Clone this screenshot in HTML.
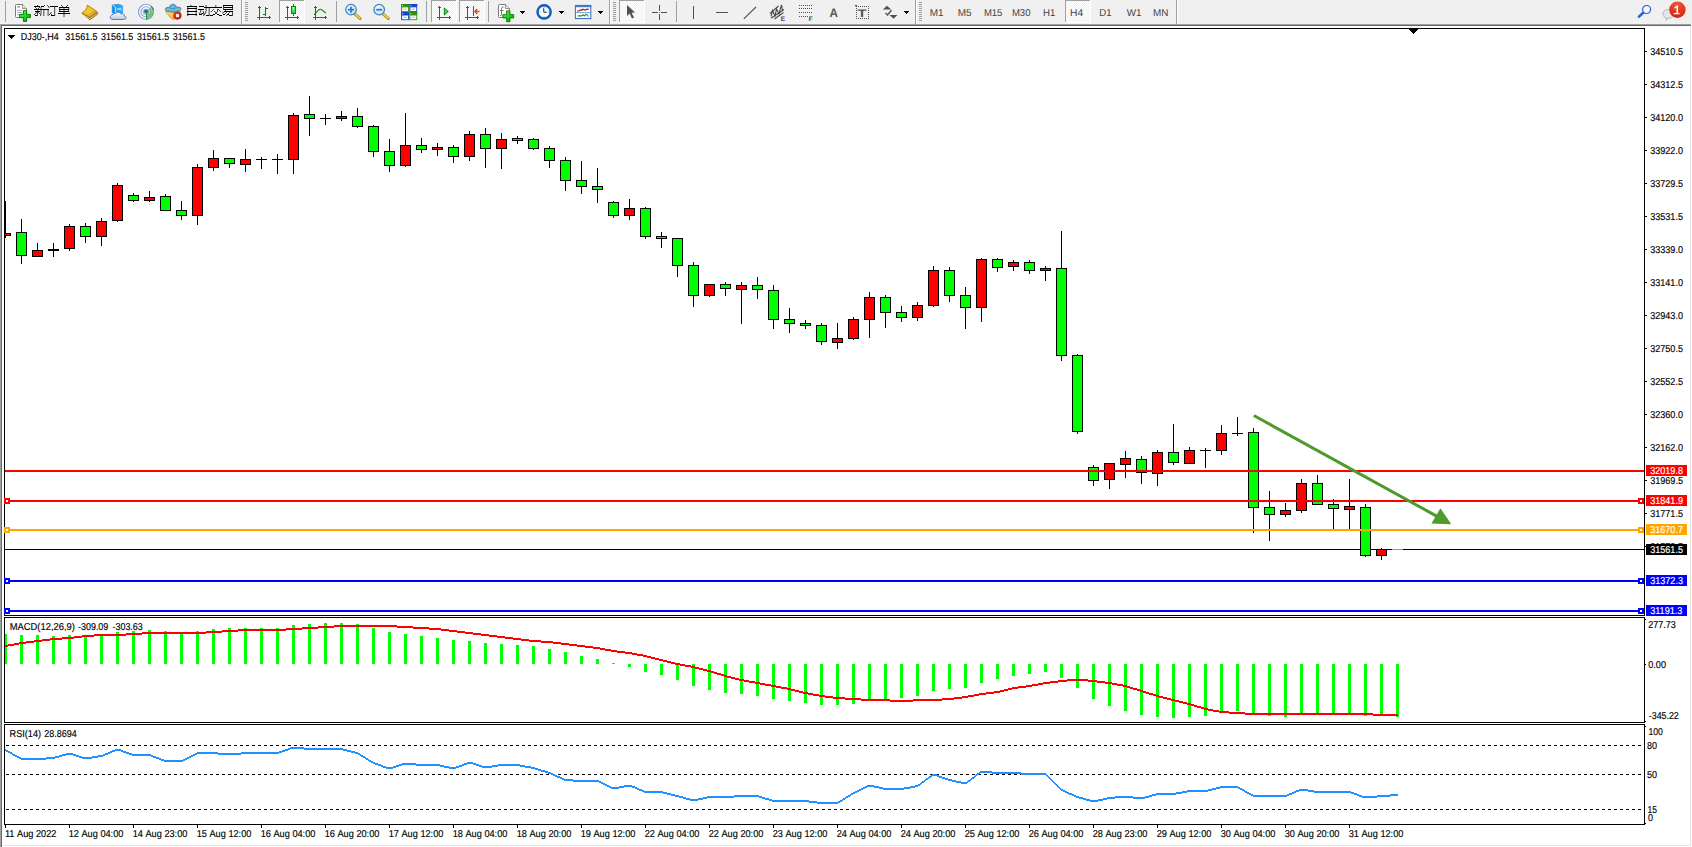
<!DOCTYPE html>
<html><head><meta charset="utf-8"><title>chart</title>
<style>
html,body{margin:0;padding:0;background:#fff;}
body{width:1692px;height:847px;overflow:hidden;position:relative;font-family:"Liberation Sans",sans-serif;}
svg{position:absolute;left:0;top:0;display:block;}
svg text{font-family:"Liberation Sans",sans-serif;text-rendering:geometricPrecision;}
</style></head><body>
<svg width="1692" height="847" viewBox="0 0 1692 847">
<rect x="0" y="0" width="1692" height="24" fill="#f0f0f0"/><rect x="0" y="24" width="1691" height="1" fill="#a0a0a0"/><rect x="0" y="25" width="1691" height="1" fill="#696969"/><rect x="0" y="24" width="1" height="823" fill="#a0a0a0"/><rect x="1" y="25" width="1" height="822" fill="#696969"/><rect x="1690" y="26" width="1" height="820" fill="#e3e3e3"/><rect x="2" y="845" width="1689" height="1" fill="#e3e3e3"/><g shape-rendering="crispEdges"><rect x="4" y="28" width="1641" height="1" fill="#000"/><rect x="4" y="615" width="1641" height="1" fill="#000"/><rect x="4" y="28" width="1" height="588" fill="#000"/><rect x="1644" y="28" width="1" height="588" fill="#000"/><rect x="4" y="617" width="1641" height="1" fill="#000"/><rect x="4" y="722" width="1641" height="1" fill="#000"/><rect x="4" y="617" width="1" height="106" fill="#000"/><rect x="1644" y="617" width="1" height="106" fill="#000"/><rect x="4" y="724" width="1641" height="1" fill="#000"/><rect x="4" y="824" width="1641" height="1" fill="#000"/><rect x="4" y="724" width="1" height="101" fill="#000"/><rect x="1644" y="724" width="1" height="101" fill="#000"/><rect x="5" y="549" width="1639" height="1" fill="#000"/><rect x="5" y="201" width="1" height="37" fill="#000"/><rect x="5" y="233" width="6" height="3" fill="#000"/><rect x="5" y="234" width="5" height="1" fill="#ff0000"/><rect x="21" y="219" width="1" height="45" fill="#000"/><rect x="16" y="232" width="11" height="24" fill="#000"/><rect x="17" y="233" width="9" height="22" fill="#00ff00"/><rect x="37" y="243" width="1" height="14" fill="#000"/><rect x="32" y="250" width="11" height="7" fill="#000"/><rect x="33" y="251" width="9" height="5" fill="#ff0000"/><rect x="53" y="243" width="1" height="14" fill="#000"/><rect x="48" y="249" width="11" height="2" fill="#000"/><rect x="69" y="224" width="1" height="27" fill="#000"/><rect x="64" y="226" width="11" height="23" fill="#000"/><rect x="65" y="227" width="9" height="21" fill="#ff0000"/><rect x="85" y="223" width="1" height="20" fill="#000"/><rect x="80" y="226" width="11" height="11" fill="#000"/><rect x="81" y="227" width="9" height="9" fill="#00ff00"/><rect x="101" y="218" width="1" height="28" fill="#000"/><rect x="96" y="221" width="11" height="16" fill="#000"/><rect x="97" y="222" width="9" height="14" fill="#ff0000"/><rect x="117" y="183" width="1" height="39" fill="#000"/><rect x="112" y="185" width="11" height="36" fill="#000"/><rect x="113" y="186" width="9" height="34" fill="#ff0000"/><rect x="133" y="193" width="1" height="9" fill="#000"/><rect x="128" y="195" width="11" height="6" fill="#000"/><rect x="129" y="196" width="9" height="4" fill="#00ff00"/><rect x="149" y="191" width="1" height="11" fill="#000"/><rect x="144" y="197" width="11" height="4" fill="#000"/><rect x="145" y="198" width="9" height="2" fill="#ff0000"/><rect x="165" y="194" width="1" height="17" fill="#000"/><rect x="160" y="196" width="11" height="15" fill="#000"/><rect x="161" y="197" width="9" height="13" fill="#00ff00"/><rect x="181" y="201" width="1" height="19" fill="#000"/><rect x="176" y="210" width="11" height="6" fill="#000"/><rect x="177" y="211" width="9" height="4" fill="#00ff00"/><rect x="197" y="164" width="1" height="61" fill="#000"/><rect x="192" y="167" width="11" height="49" fill="#000"/><rect x="193" y="168" width="9" height="47" fill="#ff0000"/><rect x="213" y="150" width="1" height="21" fill="#000"/><rect x="208" y="158" width="11" height="10" fill="#000"/><rect x="209" y="159" width="9" height="8" fill="#ff0000"/><rect x="229" y="158" width="1" height="10" fill="#000"/><rect x="224" y="158" width="11" height="6" fill="#000"/><rect x="225" y="159" width="9" height="4" fill="#00ff00"/><rect x="245" y="149" width="1" height="23" fill="#000"/><rect x="240" y="159" width="11" height="6" fill="#000"/><rect x="241" y="160" width="9" height="4" fill="#ff0000"/><rect x="261" y="157" width="1" height="12" fill="#000"/><rect x="256" y="159" width="11" height="1" fill="#000"/><rect x="277" y="154" width="1" height="20" fill="#000"/><rect x="272" y="159" width="11" height="1" fill="#000"/><rect x="293" y="113" width="1" height="61" fill="#000"/><rect x="288" y="115" width="11" height="45" fill="#000"/><rect x="289" y="116" width="9" height="43" fill="#ff0000"/><rect x="309" y="96" width="1" height="40" fill="#000"/><rect x="304" y="114" width="11" height="5" fill="#000"/><rect x="305" y="115" width="9" height="3" fill="#00ff00"/><rect x="325" y="114" width="1" height="11" fill="#000"/><rect x="320" y="118" width="11" height="1" fill="#000"/><rect x="341" y="111" width="1" height="10" fill="#000"/><rect x="336" y="116" width="11" height="3" fill="#000"/><rect x="337" y="117" width="9" height="1" fill="#ff0000"/><rect x="357" y="108" width="1" height="20" fill="#000"/><rect x="352" y="116" width="11" height="11" fill="#000"/><rect x="353" y="117" width="9" height="9" fill="#00ff00"/><rect x="373" y="125" width="1" height="32" fill="#000"/><rect x="368" y="126" width="11" height="26" fill="#000"/><rect x="369" y="127" width="9" height="24" fill="#00ff00"/><rect x="389" y="139" width="1" height="33" fill="#000"/><rect x="384" y="151" width="11" height="15" fill="#000"/><rect x="385" y="152" width="9" height="13" fill="#00ff00"/><rect x="405" y="113" width="1" height="54" fill="#000"/><rect x="400" y="145" width="11" height="21" fill="#000"/><rect x="401" y="146" width="9" height="19" fill="#ff0000"/><rect x="421" y="138" width="1" height="15" fill="#000"/><rect x="416" y="145" width="11" height="5" fill="#000"/><rect x="417" y="146" width="9" height="3" fill="#00ff00"/><rect x="437" y="143" width="1" height="13" fill="#000"/><rect x="432" y="147" width="11" height="3" fill="#000"/><rect x="433" y="148" width="9" height="1" fill="#ff0000"/><rect x="453" y="145" width="1" height="18" fill="#000"/><rect x="448" y="147" width="11" height="10" fill="#000"/><rect x="449" y="148" width="9" height="8" fill="#00ff00"/><rect x="469" y="131" width="1" height="30" fill="#000"/><rect x="464" y="134" width="11" height="23" fill="#000"/><rect x="465" y="135" width="9" height="21" fill="#ff0000"/><rect x="485" y="128" width="1" height="40" fill="#000"/><rect x="480" y="134" width="11" height="15" fill="#000"/><rect x="481" y="135" width="9" height="13" fill="#00ff00"/><rect x="501" y="133" width="1" height="36" fill="#000"/><rect x="496" y="139" width="11" height="10" fill="#000"/><rect x="497" y="140" width="9" height="8" fill="#ff0000"/><rect x="517" y="136" width="1" height="8" fill="#000"/><rect x="512" y="138" width="11" height="3" fill="#000"/><rect x="513" y="139" width="9" height="1" fill="#00ff00"/><rect x="533" y="138" width="1" height="12" fill="#000"/><rect x="528" y="139" width="11" height="10" fill="#000"/><rect x="529" y="140" width="9" height="8" fill="#00ff00"/><rect x="549" y="146" width="1" height="22" fill="#000"/><rect x="544" y="148" width="11" height="13" fill="#000"/><rect x="545" y="149" width="9" height="11" fill="#00ff00"/><rect x="565" y="157" width="1" height="34" fill="#000"/><rect x="560" y="160" width="11" height="21" fill="#000"/><rect x="561" y="161" width="9" height="19" fill="#00ff00"/><rect x="581" y="161" width="1" height="33" fill="#000"/><rect x="576" y="180" width="11" height="7" fill="#000"/><rect x="577" y="181" width="9" height="5" fill="#00ff00"/><rect x="597" y="168" width="1" height="35" fill="#000"/><rect x="592" y="186" width="11" height="4" fill="#000"/><rect x="593" y="187" width="9" height="2" fill="#00ff00"/><rect x="613" y="201" width="1" height="17" fill="#000"/><rect x="608" y="202" width="11" height="14" fill="#000"/><rect x="609" y="203" width="9" height="12" fill="#00ff00"/><rect x="629" y="199" width="1" height="21" fill="#000"/><rect x="624" y="208" width="11" height="8" fill="#000"/><rect x="625" y="209" width="9" height="6" fill="#ff0000"/><rect x="645" y="207" width="1" height="32" fill="#000"/><rect x="640" y="208" width="11" height="29" fill="#000"/><rect x="641" y="209" width="9" height="27" fill="#00ff00"/><rect x="661" y="232" width="1" height="16" fill="#000"/><rect x="656" y="236" width="11" height="3" fill="#000"/><rect x="657" y="237" width="9" height="1" fill="#00ff00"/><rect x="677" y="238" width="1" height="39" fill="#000"/><rect x="672" y="238" width="11" height="28" fill="#000"/><rect x="673" y="239" width="9" height="26" fill="#00ff00"/><rect x="693" y="262" width="1" height="45" fill="#000"/><rect x="688" y="265" width="11" height="31" fill="#000"/><rect x="689" y="266" width="9" height="29" fill="#00ff00"/><rect x="709" y="284" width="1" height="13" fill="#000"/><rect x="704" y="284" width="11" height="12" fill="#000"/><rect x="705" y="285" width="9" height="10" fill="#ff0000"/><rect x="725" y="282" width="1" height="14" fill="#000"/><rect x="720" y="284" width="11" height="5" fill="#000"/><rect x="721" y="285" width="9" height="3" fill="#00ff00"/><rect x="741" y="282" width="1" height="42" fill="#000"/><rect x="736" y="285" width="11" height="5" fill="#000"/><rect x="737" y="286" width="9" height="3" fill="#ff0000"/><rect x="757" y="277" width="1" height="22" fill="#000"/><rect x="752" y="285" width="11" height="5" fill="#000"/><rect x="753" y="286" width="9" height="3" fill="#00ff00"/><rect x="773" y="285" width="1" height="44" fill="#000"/><rect x="768" y="290" width="11" height="30" fill="#000"/><rect x="769" y="291" width="9" height="28" fill="#00ff00"/><rect x="789" y="308" width="1" height="25" fill="#000"/><rect x="784" y="319" width="11" height="5" fill="#000"/><rect x="785" y="320" width="9" height="3" fill="#00ff00"/><rect x="805" y="320" width="1" height="9" fill="#000"/><rect x="800" y="323" width="11" height="3" fill="#000"/><rect x="801" y="324" width="9" height="1" fill="#00ff00"/><rect x="821" y="323" width="1" height="22" fill="#000"/><rect x="816" y="325" width="11" height="17" fill="#000"/><rect x="817" y="326" width="9" height="15" fill="#00ff00"/><rect x="837" y="323" width="1" height="26" fill="#000"/><rect x="832" y="338" width="11" height="5" fill="#000"/><rect x="833" y="339" width="9" height="3" fill="#ff0000"/><rect x="853" y="317" width="1" height="23" fill="#000"/><rect x="848" y="319" width="11" height="20" fill="#000"/><rect x="849" y="320" width="9" height="18" fill="#ff0000"/><rect x="869" y="292" width="1" height="46" fill="#000"/><rect x="864" y="297" width="11" height="23" fill="#000"/><rect x="865" y="298" width="9" height="21" fill="#ff0000"/><rect x="885" y="295" width="1" height="33" fill="#000"/><rect x="880" y="297" width="11" height="16" fill="#000"/><rect x="881" y="298" width="9" height="14" fill="#00ff00"/><rect x="901" y="306" width="1" height="16" fill="#000"/><rect x="896" y="312" width="11" height="6" fill="#000"/><rect x="897" y="313" width="9" height="4" fill="#00ff00"/><rect x="917" y="302" width="1" height="19" fill="#000"/><rect x="912" y="305" width="11" height="13" fill="#000"/><rect x="913" y="306" width="9" height="11" fill="#ff0000"/><rect x="933" y="266" width="1" height="41" fill="#000"/><rect x="928" y="270" width="11" height="36" fill="#000"/><rect x="929" y="271" width="9" height="34" fill="#ff0000"/><rect x="949" y="267" width="1" height="35" fill="#000"/><rect x="944" y="270" width="11" height="26" fill="#000"/><rect x="945" y="271" width="9" height="24" fill="#00ff00"/><rect x="965" y="287" width="1" height="42" fill="#000"/><rect x="960" y="295" width="11" height="13" fill="#000"/><rect x="961" y="296" width="9" height="11" fill="#00ff00"/><rect x="981" y="258" width="1" height="64" fill="#000"/><rect x="976" y="259" width="11" height="49" fill="#000"/><rect x="977" y="260" width="9" height="47" fill="#ff0000"/><rect x="997" y="258" width="1" height="14" fill="#000"/><rect x="992" y="259" width="11" height="9" fill="#000"/><rect x="993" y="260" width="9" height="7" fill="#00ff00"/><rect x="1013" y="260" width="1" height="11" fill="#000"/><rect x="1008" y="262" width="11" height="5" fill="#000"/><rect x="1009" y="263" width="9" height="3" fill="#ff0000"/><rect x="1029" y="260" width="1" height="14" fill="#000"/><rect x="1024" y="262" width="11" height="9" fill="#000"/><rect x="1025" y="263" width="9" height="7" fill="#00ff00"/><rect x="1045" y="266" width="1" height="15" fill="#000"/><rect x="1040" y="268" width="11" height="3" fill="#000"/><rect x="1041" y="269" width="9" height="1" fill="#ff0000"/><rect x="1061" y="231" width="1" height="130" fill="#000"/><rect x="1056" y="268" width="11" height="88" fill="#000"/><rect x="1057" y="269" width="9" height="86" fill="#00ff00"/><rect x="1077" y="354" width="1" height="80" fill="#000"/><rect x="1072" y="355" width="11" height="77" fill="#000"/><rect x="1073" y="356" width="9" height="75" fill="#00ff00"/><rect x="1093" y="465" width="1" height="21" fill="#000"/><rect x="1088" y="467" width="11" height="14" fill="#000"/><rect x="1089" y="468" width="9" height="12" fill="#00ff00"/><rect x="1109" y="463" width="1" height="26" fill="#000"/><rect x="1104" y="463" width="11" height="17" fill="#000"/><rect x="1105" y="464" width="9" height="15" fill="#ff0000"/><rect x="1125" y="451" width="1" height="27" fill="#000"/><rect x="1120" y="458" width="11" height="7" fill="#000"/><rect x="1121" y="459" width="9" height="5" fill="#ff0000"/><rect x="1141" y="456" width="1" height="28" fill="#000"/><rect x="1136" y="459" width="11" height="14" fill="#000"/><rect x="1137" y="460" width="9" height="12" fill="#00ff00"/><rect x="1157" y="450" width="1" height="36" fill="#000"/><rect x="1152" y="452" width="11" height="22" fill="#000"/><rect x="1153" y="453" width="9" height="20" fill="#ff0000"/><rect x="1173" y="424" width="1" height="41" fill="#000"/><rect x="1168" y="452" width="11" height="11" fill="#000"/><rect x="1169" y="453" width="9" height="9" fill="#00ff00"/><rect x="1189" y="447" width="1" height="17" fill="#000"/><rect x="1184" y="450" width="11" height="14" fill="#000"/><rect x="1185" y="451" width="9" height="12" fill="#ff0000"/><rect x="1205" y="448" width="1" height="20" fill="#000"/><rect x="1200" y="450" width="11" height="1" fill="#000"/><rect x="1221" y="425" width="1" height="30" fill="#000"/><rect x="1216" y="433" width="11" height="18" fill="#000"/><rect x="1217" y="434" width="9" height="16" fill="#ff0000"/><rect x="1237" y="417" width="1" height="19" fill="#000"/><rect x="1232" y="433" width="11" height="1" fill="#000"/><rect x="1253" y="428" width="1" height="105" fill="#000"/><rect x="1248" y="432" width="11" height="76" fill="#000"/><rect x="1249" y="433" width="9" height="74" fill="#00ff00"/><rect x="1269" y="491" width="1" height="50" fill="#000"/><rect x="1264" y="507" width="11" height="8" fill="#000"/><rect x="1265" y="508" width="9" height="6" fill="#00ff00"/><rect x="1285" y="503" width="1" height="14" fill="#000"/><rect x="1280" y="510" width="11" height="5" fill="#000"/><rect x="1281" y="511" width="9" height="3" fill="#ff0000"/><rect x="1301" y="479" width="1" height="34" fill="#000"/><rect x="1296" y="483" width="11" height="28" fill="#000"/><rect x="1297" y="484" width="9" height="26" fill="#ff0000"/><rect x="1317" y="475" width="1" height="30" fill="#000"/><rect x="1312" y="483" width="11" height="22" fill="#000"/><rect x="1313" y="484" width="9" height="20" fill="#00ff00"/><rect x="1333" y="499" width="1" height="30" fill="#000"/><rect x="1328" y="504" width="11" height="5" fill="#000"/><rect x="1329" y="505" width="9" height="3" fill="#00ff00"/><rect x="1349" y="479" width="1" height="50" fill="#000"/><rect x="1344" y="506" width="11" height="4" fill="#000"/><rect x="1345" y="507" width="9" height="2" fill="#ff0000"/><rect x="1365" y="504" width="1" height="53" fill="#000"/><rect x="1360" y="507" width="11" height="49" fill="#000"/><rect x="1361" y="508" width="9" height="47" fill="#00ff00"/><rect x="1381" y="548" width="1" height="12" fill="#000"/><rect x="1376" y="549" width="11" height="7" fill="#000"/><rect x="1377" y="550" width="9" height="5" fill="#ff0000"/><rect x="1392" y="549" width="11" height="1" fill="#00ff00"/><rect x="5" y="470" width="1639" height="2" fill="#ff0000"/><rect x="5" y="500" width="1639" height="2" fill="#ff0000"/><rect x="4" y="498" width="6" height="6" fill="#ff0000"/><rect x="6" y="500" width="2" height="2" fill="#fff"/><rect x="1638" y="498" width="6" height="6" fill="#ff0000"/><rect x="1640" y="500" width="2" height="2" fill="#fff"/><rect x="5" y="529" width="1639" height="2" fill="#ffa500"/><rect x="4" y="527" width="6" height="6" fill="#ffa500"/><rect x="6" y="529" width="2" height="2" fill="#fff"/><rect x="1638" y="527" width="6" height="6" fill="#ffa500"/><rect x="1640" y="529" width="2" height="2" fill="#fff"/><rect x="5" y="580" width="1639" height="2" fill="#0000ff"/><rect x="4" y="578" width="6" height="6" fill="#0000ff"/><rect x="6" y="580" width="2" height="2" fill="#fff"/><rect x="1638" y="578" width="6" height="6" fill="#0000ff"/><rect x="1640" y="580" width="2" height="2" fill="#fff"/><rect x="5" y="610" width="1639" height="2" fill="#0000ff"/><rect x="4" y="608" width="6" height="6" fill="#0000ff"/><rect x="6" y="610" width="2" height="2" fill="#fff"/><rect x="1638" y="608" width="6" height="6" fill="#0000ff"/><rect x="1640" y="610" width="2" height="2" fill="#fff"/></g><line x1="1253.8" y1="415.5" x2="1437.5" y2="516.6" stroke="#4e9a2f" stroke-width="3"/><polygon points="1440.4,508.3 1431.4,523.6 1451.3,524.3" fill="#4e9a2f"/><g shape-rendering="crispEdges"><rect x="1645" y="51" width="2" height="1" fill="#000"/><rect x="1645" y="84" width="2" height="1" fill="#000"/><rect x="1645" y="117" width="2" height="1" fill="#000"/><rect x="1645" y="150" width="2" height="1" fill="#000"/><rect x="1645" y="183" width="2" height="1" fill="#000"/><rect x="1645" y="216" width="2" height="1" fill="#000"/><rect x="1645" y="249" width="2" height="1" fill="#000"/><rect x="1645" y="282" width="2" height="1" fill="#000"/><rect x="1645" y="315" width="2" height="1" fill="#000"/><rect x="1645" y="348" width="2" height="1" fill="#000"/><rect x="1645" y="381" width="2" height="1" fill="#000"/><rect x="1645" y="414" width="2" height="1" fill="#000"/><rect x="1645" y="447" width="2" height="1" fill="#000"/><rect x="1645" y="480" width="2" height="1" fill="#000"/><rect x="1645" y="513" width="2" height="1" fill="#000"/><rect x="1645" y="546" width="2" height="1" fill="#000"/></g><text x="1650.2" y="55" font-size="10" fill="#000" stroke="#000" stroke-width="0.15" textLength="32.8" lengthAdjust="spacingAndGlyphs">34510.5</text><text x="1650.2" y="88" font-size="10" fill="#000" stroke="#000" stroke-width="0.15" textLength="32.8" lengthAdjust="spacingAndGlyphs">34312.5</text><text x="1650.2" y="121" font-size="10" fill="#000" stroke="#000" stroke-width="0.15" textLength="32.8" lengthAdjust="spacingAndGlyphs">34120.0</text><text x="1650.2" y="154" font-size="10" fill="#000" stroke="#000" stroke-width="0.15" textLength="32.8" lengthAdjust="spacingAndGlyphs">33922.0</text><text x="1650.2" y="187" font-size="10" fill="#000" stroke="#000" stroke-width="0.15" textLength="32.8" lengthAdjust="spacingAndGlyphs">33729.5</text><text x="1650.2" y="220" font-size="10" fill="#000" stroke="#000" stroke-width="0.15" textLength="32.8" lengthAdjust="spacingAndGlyphs">33531.5</text><text x="1650.2" y="253" font-size="10" fill="#000" stroke="#000" stroke-width="0.15" textLength="32.8" lengthAdjust="spacingAndGlyphs">33339.0</text><text x="1650.2" y="286" font-size="10" fill="#000" stroke="#000" stroke-width="0.15" textLength="32.8" lengthAdjust="spacingAndGlyphs">33141.0</text><text x="1650.2" y="319" font-size="10" fill="#000" stroke="#000" stroke-width="0.15" textLength="32.8" lengthAdjust="spacingAndGlyphs">32943.0</text><text x="1650.2" y="352" font-size="10" fill="#000" stroke="#000" stroke-width="0.15" textLength="32.8" lengthAdjust="spacingAndGlyphs">32750.5</text><text x="1650.2" y="385" font-size="10" fill="#000" stroke="#000" stroke-width="0.15" textLength="32.8" lengthAdjust="spacingAndGlyphs">32552.5</text><text x="1650.2" y="418" font-size="10" fill="#000" stroke="#000" stroke-width="0.15" textLength="32.8" lengthAdjust="spacingAndGlyphs">32360.0</text><text x="1650.2" y="451" font-size="10" fill="#000" stroke="#000" stroke-width="0.15" textLength="32.8" lengthAdjust="spacingAndGlyphs">32162.0</text><text x="1650.2" y="484" font-size="10" fill="#000" stroke="#000" stroke-width="0.15" textLength="32.8" lengthAdjust="spacingAndGlyphs">31969.5</text><text x="1650.2" y="517" font-size="10" fill="#000" stroke="#000" stroke-width="0.15" textLength="32.8" lengthAdjust="spacingAndGlyphs">31771.5</text><text x="1650.2" y="550" font-size="10" fill="#000" stroke="#000" stroke-width="0.15" textLength="32.8" lengthAdjust="spacingAndGlyphs">31573.5</text><rect x="1646" y="465" width="41" height="11" fill="#ff0000" shape-rendering="crispEdges"/><text x="1650.2" y="474" font-size="10" fill="#fff" stroke="#fff" stroke-width="0.15" textLength="32.8" lengthAdjust="spacingAndGlyphs">32019.8</text><rect x="1646" y="495" width="41" height="11" fill="#ff0000" shape-rendering="crispEdges"/><text x="1650.2" y="504" font-size="10" fill="#fff" stroke="#fff" stroke-width="0.15" textLength="32.8" lengthAdjust="spacingAndGlyphs">31841.9</text><rect x="1646" y="524" width="41" height="11" fill="#ffa500" shape-rendering="crispEdges"/><text x="1650.2" y="533" font-size="10" fill="#fff" stroke="#fff" stroke-width="0.15" textLength="32.8" lengthAdjust="spacingAndGlyphs">31670.7</text><rect x="1646" y="544" width="41" height="11" fill="#000000" shape-rendering="crispEdges"/><text x="1650.2" y="553" font-size="10" fill="#fff" stroke="#fff" stroke-width="0.15" textLength="32.8" lengthAdjust="spacingAndGlyphs">31561.5</text><rect x="1646" y="575" width="41" height="11" fill="#0000ff" shape-rendering="crispEdges"/><text x="1650.2" y="584" font-size="10" fill="#fff" stroke="#fff" stroke-width="0.15" textLength="32.8" lengthAdjust="spacingAndGlyphs">31372.3</text><rect x="1646" y="605" width="41" height="11" fill="#0000ff" shape-rendering="crispEdges"/><text x="1650.2" y="614" font-size="10" fill="#fff" stroke="#fff" stroke-width="0.15" textLength="32.12" lengthAdjust="spacingAndGlyphs">31191.3</text><rect x="8" y="35" width="7" height="1" fill="#000" shape-rendering="crispEdges"/><rect x="9" y="36" width="5" height="1" fill="#000" shape-rendering="crispEdges"/><rect x="10" y="37" width="3" height="1" fill="#000" shape-rendering="crispEdges"/><rect x="11" y="38" width="1" height="1" fill="#000" shape-rendering="crispEdges"/><text x="20.8" y="40" font-size="10" fill="#000" stroke="#000" stroke-width="0.15" textLength="38.0" lengthAdjust="spacingAndGlyphs">DJ30-,H4</text><text x="65.3" y="40" font-size="10" fill="#000" stroke="#000" stroke-width="0.15" textLength="32.2" lengthAdjust="spacingAndGlyphs">31561.5</text><text x="101.1" y="40" font-size="10" fill="#000" stroke="#000" stroke-width="0.15" textLength="32.2" lengthAdjust="spacingAndGlyphs">31561.5</text><text x="136.9" y="40" font-size="10" fill="#000" stroke="#000" stroke-width="0.15" textLength="32.2" lengthAdjust="spacingAndGlyphs">31561.5</text><text x="172.7" y="40" font-size="10" fill="#000" stroke="#000" stroke-width="0.15" textLength="32.2" lengthAdjust="spacingAndGlyphs">31561.5</text><g shape-rendering="crispEdges"><rect x="5" y="634" width="2" height="30" fill="#00ff00"/><rect x="20" y="635" width="3" height="29" fill="#00ff00"/><rect x="36" y="635" width="3" height="29" fill="#00ff00"/><rect x="52" y="636" width="3" height="28" fill="#00ff00"/><rect x="68" y="635" width="3" height="29" fill="#00ff00"/><rect x="84" y="635" width="3" height="29" fill="#00ff00"/><rect x="100" y="634" width="3" height="30" fill="#00ff00"/><rect x="116" y="632" width="3" height="32" fill="#00ff00"/><rect x="132" y="631" width="3" height="33" fill="#00ff00"/><rect x="148" y="630" width="3" height="34" fill="#00ff00"/><rect x="164" y="631" width="3" height="33" fill="#00ff00"/><rect x="180" y="633" width="3" height="31" fill="#00ff00"/><rect x="196" y="631" width="3" height="33" fill="#00ff00"/><rect x="212" y="629" width="3" height="35" fill="#00ff00"/><rect x="228" y="628" width="3" height="36" fill="#00ff00"/><rect x="244" y="628" width="3" height="36" fill="#00ff00"/><rect x="260" y="628" width="3" height="36" fill="#00ff00"/><rect x="276" y="628" width="3" height="36" fill="#00ff00"/><rect x="292" y="625" width="3" height="39" fill="#00ff00"/><rect x="308" y="624" width="3" height="40" fill="#00ff00"/><rect x="324" y="623" width="3" height="41" fill="#00ff00"/><rect x="340" y="623" width="3" height="41" fill="#00ff00"/><rect x="356" y="624" width="3" height="40" fill="#00ff00"/><rect x="372" y="628" width="3" height="36" fill="#00ff00"/><rect x="388" y="632" width="3" height="32" fill="#00ff00"/><rect x="404" y="634" width="3" height="30" fill="#00ff00"/><rect x="420" y="636" width="3" height="28" fill="#00ff00"/><rect x="436" y="638" width="3" height="26" fill="#00ff00"/><rect x="452" y="640" width="3" height="24" fill="#00ff00"/><rect x="468" y="641" width="3" height="23" fill="#00ff00"/><rect x="484" y="643" width="3" height="21" fill="#00ff00"/><rect x="500" y="644" width="3" height="20" fill="#00ff00"/><rect x="516" y="645" width="3" height="19" fill="#00ff00"/><rect x="532" y="646" width="3" height="18" fill="#00ff00"/><rect x="548" y="649" width="3" height="15" fill="#00ff00"/><rect x="564" y="652" width="3" height="12" fill="#00ff00"/><rect x="580" y="656" width="3" height="8" fill="#00ff00"/><rect x="596" y="659" width="3" height="5" fill="#00ff00"/><rect x="612" y="663" width="3" height="1" fill="#00ff00"/><rect x="628" y="664" width="3" height="3" fill="#00ff00"/><rect x="644" y="664" width="3" height="8" fill="#00ff00"/><rect x="660" y="664" width="3" height="11" fill="#00ff00"/><rect x="676" y="664" width="3" height="16" fill="#00ff00"/><rect x="692" y="664" width="3" height="22" fill="#00ff00"/><rect x="708" y="664" width="3" height="26" fill="#00ff00"/><rect x="724" y="664" width="3" height="29" fill="#00ff00"/><rect x="740" y="664" width="3" height="30" fill="#00ff00"/><rect x="756" y="664" width="3" height="32" fill="#00ff00"/><rect x="772" y="664" width="3" height="35" fill="#00ff00"/><rect x="788" y="664" width="3" height="37" fill="#00ff00"/><rect x="804" y="664" width="3" height="39" fill="#00ff00"/><rect x="820" y="664" width="3" height="41" fill="#00ff00"/><rect x="836" y="664" width="3" height="41" fill="#00ff00"/><rect x="852" y="664" width="3" height="40" fill="#00ff00"/><rect x="868" y="664" width="3" height="36" fill="#00ff00"/><rect x="884" y="664" width="3" height="36" fill="#00ff00"/><rect x="900" y="664" width="3" height="34" fill="#00ff00"/><rect x="916" y="664" width="3" height="32" fill="#00ff00"/><rect x="932" y="664" width="3" height="27" fill="#00ff00"/><rect x="948" y="664" width="3" height="25" fill="#00ff00"/><rect x="964" y="664" width="3" height="24" fill="#00ff00"/><rect x="980" y="664" width="3" height="19" fill="#00ff00"/><rect x="996" y="664" width="3" height="15" fill="#00ff00"/><rect x="1012" y="664" width="3" height="12" fill="#00ff00"/><rect x="1028" y="664" width="3" height="10" fill="#00ff00"/><rect x="1044" y="664" width="3" height="8" fill="#00ff00"/><rect x="1060" y="664" width="3" height="14" fill="#00ff00"/><rect x="1076" y="664" width="3" height="24" fill="#00ff00"/><rect x="1092" y="664" width="3" height="35" fill="#00ff00"/><rect x="1108" y="664" width="3" height="42" fill="#00ff00"/><rect x="1124" y="664" width="3" height="47" fill="#00ff00"/><rect x="1140" y="664" width="3" height="51" fill="#00ff00"/><rect x="1156" y="664" width="3" height="53" fill="#00ff00"/><rect x="1172" y="664" width="3" height="54" fill="#00ff00"/><rect x="1188" y="664" width="3" height="53" fill="#00ff00"/><rect x="1204" y="664" width="3" height="52" fill="#00ff00"/><rect x="1220" y="664" width="3" height="49" fill="#00ff00"/><rect x="1236" y="664" width="3" height="47" fill="#00ff00"/><rect x="1252" y="664" width="3" height="49" fill="#00ff00"/><rect x="1268" y="664" width="3" height="52" fill="#00ff00"/><rect x="1284" y="664" width="3" height="53" fill="#00ff00"/><rect x="1300" y="664" width="3" height="50" fill="#00ff00"/><rect x="1316" y="664" width="3" height="50" fill="#00ff00"/><rect x="1332" y="664" width="3" height="50" fill="#00ff00"/><rect x="1348" y="664" width="3" height="50" fill="#00ff00"/><rect x="1364" y="664" width="3" height="52" fill="#00ff00"/><rect x="1380" y="664" width="3" height="51" fill="#00ff00"/><rect x="1396" y="664" width="3" height="53" fill="#00ff00"/><path d="M334,625h63v1h-63zM318,626h95v1h-95zM302,627h32v1h-32zM397,627h32v1h-32zM286,628h32v1h-32zM413,628h28v1h-28zM238,629h64v1h-64zM429,629h20v1h-20zM222,630h64v1h-64zM441,630h16v1h-16zM206,631h32v1h-32zM449,631h16v1h-16zM142,632h80v1h-80zM457,632h16v1h-16zM126,633h80v1h-80zM465,633h16v1h-16zM94,634h48v1h-48zM473,634h16v1h-16zM82,635h44v1h-44zM481,635h16v1h-16zM74,636h20v1h-20zM489,636h16v1h-16zM62,637h20v1h-20zM497,637h16v1h-16zM50,638h24v1h-24zM505,638h16v1h-16zM42,639h20v1h-20zM513,639h16v1h-16zM34,640h16v1h-16zM521,640h20v1h-20zM26,641h16v1h-16zM529,641h24v1h-24zM19,642h15v1h-15zM541,642h20v1h-20zM14,643h12v1h-12zM553,643h16v1h-16zM8,644h11v1h-11zM561,644h16v1h-16zM5,645h9v1h-9zM569,645h16v1h-16zM5,646h3v1h-3zM577,646h16v1h-16zM585,647h15v1h-15zM593,648h12v1h-12zM600,649h11v1h-11zM605,650h12v1h-12zM611,651h14v1h-14zM617,652h15v1h-15zM625,653h12v1h-12zM632,654h11v1h-11zM637,655h10v1h-10zM643,656h8v1h-8zM647,657h8v1h-8zM651,658h8v1h-8zM655,659h8v1h-8zM659,660h8v1h-8zM663,661h8v1h-8zM667,662h8v1h-8zM671,663h9v1h-9zM675,664h10v1h-10zM680,665h11v1h-11zM685,666h10v1h-10zM691,667h8v1h-8zM695,668h8v1h-8zM699,669h8v1h-8zM703,670h8v1h-8zM707,671h7v1h-7zM711,672h6v1h-6zM714,673h7v1h-7zM717,674h7v1h-7zM721,675h6v1h-6zM724,676h7v1h-7zM727,677h8v1h-8zM731,678h8v1h-8zM735,679h9v1h-9zM1067,679h21v1h-21zM739,680h10v1h-10zM1058,680h39v1h-39zM744,681h11v1h-11zM1050,681h17v1h-17zM1088,681h17v1h-17zM749,682h11v1h-11zM1043,682h15v1h-15zM1097,682h15v1h-15zM755,683h10v1h-10zM1038,683h12v1h-12zM1105,683h12v1h-12zM760,684h11v1h-11zM1032,684h11v1h-11zM1112,684h11v1h-11zM765,685h11v1h-11zM1026,685h12v1h-12zM1117,685h10v1h-10zM771,686h10v1h-10zM1018,686h14v1h-14zM1123,686h7v1h-7zM776,687h11v1h-11zM1012,687h14v1h-14zM1127,687h6v1h-6zM781,688h10v1h-10zM1008,688h10v1h-10zM1130,688h7v1h-7zM787,689h8v1h-8zM1004,689h8v1h-8zM1133,689h7v1h-7zM791,690h8v1h-8zM1000,690h8v1h-8zM1137,690h6v1h-6zM795,691h8v1h-8zM994,691h10v1h-10zM1140,691h6v1h-6zM799,692h9v1h-9zM986,692h14v1h-14zM1143,692h6v1h-6zM803,693h10v1h-10zM979,693h15v1h-15zM1146,693h7v1h-7zM808,694h11v1h-11zM974,694h12v1h-12zM1149,694h7v1h-7zM813,695h12v1h-12zM968,695h11v1h-11zM1153,695h6v1h-6zM819,696h14v1h-14zM962,696h12v1h-12zM1156,696h7v1h-7zM825,697h20v1h-20zM954,697h14v1h-14zM1159,697h8v1h-8zM833,698h28v1h-28zM942,698h20v1h-20zM1163,698h8v1h-8zM845,699h45v1h-45zM913,699h41v1h-41zM1167,699h8v1h-8zM861,700h81v1h-81zM1171,700h8v1h-8zM890,701h23v1h-23zM1175,701h8v1h-8zM1179,702h8v1h-8zM1183,703h8v1h-8zM1187,704h7v1h-7zM1191,705h6v1h-6zM1194,706h7v1h-7zM1197,707h7v1h-7zM1201,708h7v1h-7zM1204,709h9v1h-9zM1208,710h11v1h-11zM1213,711h16v1h-16zM1219,712h26v1h-26zM1229,713h144v1h-144zM1245,714h153v1h-153zM1373,715h25v1h-25z" fill="#ff0000"/><rect x="1645" y="619" width="1" height="1" fill="#000"/><rect x="1645" y="664" width="1" height="1" fill="#000"/><rect x="1645" y="721" width="1" height="1" fill="#000"/></g><text x="9.75" y="630" font-size="10" fill="#000" stroke="#000" stroke-width="0.15" textLength="65.15" lengthAdjust="spacingAndGlyphs">MACD(12,26,9)</text><text x="78.0" y="630" font-size="10" fill="#000" stroke="#000" stroke-width="0.15" textLength="30.3" lengthAdjust="spacingAndGlyphs">-309.09</text><text x="112.6" y="630" font-size="10" fill="#000" stroke="#000" stroke-width="0.15" textLength="30.1" lengthAdjust="spacingAndGlyphs">-303.63</text><text x="1648.2" y="628" font-size="10" fill="#000" stroke="#000" stroke-width="0.15" textLength="27.6" lengthAdjust="spacingAndGlyphs">277.73</text><text x="1648.2" y="668" font-size="10" fill="#000" stroke="#000" stroke-width="0.15" textLength="17.8" lengthAdjust="spacingAndGlyphs">0.00</text><text x="1648.8" y="719" font-size="10" fill="#000" stroke="#000" stroke-width="0.15" textLength="29.9" lengthAdjust="spacingAndGlyphs">-345.22</text><g shape-rendering="crispEdges"><line x1="6" y1="745.5" x2="1644" y2="745.5" stroke="#000" stroke-width="1" stroke-dasharray="3,3"/><line x1="6" y1="774.5" x2="1644" y2="774.5" stroke="#000" stroke-width="1" stroke-dasharray="3,3"/><line x1="6" y1="809.5" x2="1644" y2="809.5" stroke="#000" stroke-width="1" stroke-dasharray="3,3"/><path d="M290,747h14v1h-14zM288,748h55v1h-55zM5,749h1v1h-1zM115,749h6v1h-6zM285,749h5v1h-5zM304,749h43v1h-43zM5,750h3v1h-3zM112,750h11v1h-11zM282,750h6v1h-6zM343,750h8v1h-8zM6,751h4v1h-4zM110,751h5v1h-5zM121,751h5v1h-5zM279,751h6v1h-6zM347,751h8v1h-8zM8,752h4v1h-4zM108,752h4v1h-4zM123,752h6v1h-6zM197,752h21v1h-21zM241,752h41v1h-41zM351,752h7v1h-7zM10,753h3v1h-3zM66,753h7v1h-7zM105,753h5v1h-5zM126,753h6v1h-6zM195,753h84v1h-84zM355,753h5v1h-5zM12,754h3v1h-3zM62,754h14v1h-14zM103,754h5v1h-5zM129,754h22v1h-22zM193,754h4v1h-4zM218,754h23v1h-23zM358,754h3v1h-3zM13,755h4v1h-4zM59,755h7v1h-7zM73,755h6v1h-6zM98,755h7v1h-7zM132,755h21v1h-21zM191,755h4v1h-4zM360,755h3v1h-3zM15,756h4v1h-4zM55,756h7v1h-7zM76,756h6v1h-6zM92,756h11v1h-11zM151,756h5v1h-5zM189,756h4v1h-4zM361,756h4v1h-4zM17,757h4v1h-4zM46,757h13v1h-13zM79,757h19v1h-19zM153,757h6v1h-6zM187,757h4v1h-4zM363,757h3v1h-3zM19,758h36v1h-36zM82,758h10v1h-10zM156,758h5v1h-5zM185,758h4v1h-4zM365,758h3v1h-3zM21,759h25v1h-25zM159,759h5v1h-5zM183,759h4v1h-4zM366,759h3v1h-3zM161,760h24v1h-24zM368,760h3v1h-3zM164,761h19v1h-19zM369,761h4v1h-4zM371,762h4v1h-4zM467,762h6v1h-6zM373,763h5v1h-5zM402,763h14v1h-14zM464,763h12v1h-12zM375,764h6v1h-6zM399,764h41v1h-41zM462,764h5v1h-5zM473,764h6v1h-6zM498,764h22v1h-22zM378,765h5v1h-5zM396,765h6v1h-6zM416,765h28v1h-28zM459,765h5v1h-5zM476,765h6v1h-6zM492,765h33v1h-33zM381,766h5v1h-5zM393,766h6v1h-6zM440,766h9v1h-9zM456,766h6v1h-6zM479,766h19v1h-19zM520,766h11v1h-11zM383,767h13v1h-13zM444,767h15v1h-15zM482,767h10v1h-10zM525,767h10v1h-10zM386,768h7v1h-7zM449,768h7v1h-7zM531,768h7v1h-7zM535,769h6v1h-6zM538,770h7v1h-7zM541,771h7v1h-7zM980,771h12v1h-12zM545,772h6v1h-6zM979,772h42v1h-42zM548,773h5v1h-5zM977,773h3v1h-3zM992,773h54v1h-54zM551,774h4v1h-4zM932,774h5v1h-5zM976,774h3v1h-3zM1021,774h26v1h-26zM553,775h4v1h-4zM931,775h8v1h-8zM975,775h2v1h-2zM1046,775h2v1h-2zM555,776h5v1h-5zM929,776h3v1h-3zM937,776h5v1h-5zM974,776h2v1h-2zM1047,776h2v1h-2zM557,777h5v1h-5zM928,777h3v1h-3zM939,777h6v1h-6zM972,777h3v1h-3zM1048,777h2v1h-2zM560,778h4v1h-4zM926,778h3v1h-3zM942,778h6v1h-6zM971,778h3v1h-3zM1049,778h2v1h-2zM562,779h11v1h-11zM925,779h3v1h-3zM945,779h7v1h-7zM970,779h2v1h-2zM1050,779h2v1h-2zM564,780h35v1h-35zM924,780h2v1h-2zM948,780h8v1h-8zM968,780h3v1h-3zM1051,780h2v1h-2zM573,781h28v1h-28zM922,781h3v1h-3zM952,781h9v1h-9zM967,781h3v1h-3zM1052,781h2v1h-2zM599,782h4v1h-4zM921,782h3v1h-3zM956,782h12v1h-12zM1053,782h2v1h-2zM601,783h4v1h-4zM920,783h2v1h-2zM961,783h6v1h-6zM1054,783h2v1h-2zM603,784h4v1h-4zM918,784h3v1h-3zM1055,784h2v1h-2zM605,785h4v1h-4zM624,785h8v1h-8zM867,785h7v1h-7zM915,785h5v1h-5zM1056,785h2v1h-2zM607,786h4v1h-4zM619,786h16v1h-16zM865,786h14v1h-14zM910,786h8v1h-8zM1057,786h2v1h-2zM1220,786h18v1h-18zM609,787h15v1h-15zM632,787h5v1h-5zM863,787h4v1h-4zM874,787h9v1h-9zM904,787h11v1h-11zM1058,787h2v1h-2zM1216,787h24v1h-24zM611,788h8v1h-8zM635,788h4v1h-4zM861,788h4v1h-4zM879,788h31v1h-31zM1059,788h2v1h-2zM1212,788h8v1h-8zM1238,788h4v1h-4zM637,789h5v1h-5zM859,789h4v1h-4zM883,789h21v1h-21zM1060,789h3v1h-3zM1208,789h8v1h-8zM1240,789h4v1h-4zM1299,789h9v1h-9zM639,790h5v1h-5zM857,790h4v1h-4zM1061,790h4v1h-4zM1187,790h25v1h-25zM1242,790h3v1h-3zM1296,790h18v1h-18zM642,791h21v1h-21zM855,791h4v1h-4zM1063,791h4v1h-4zM1182,791h26v1h-26zM1244,791h3v1h-3zM1294,791h5v1h-5zM1308,791h43v1h-43zM644,792h23v1h-23zM853,792h4v1h-4zM1065,792h4v1h-4zM1176,792h11v1h-11zM1245,792h4v1h-4zM1292,792h4v1h-4zM1314,792h40v1h-40zM663,793h8v1h-8zM851,793h4v1h-4zM1067,793h5v1h-5zM1156,793h26v1h-26zM1247,793h4v1h-4zM1289,793h5v1h-5zM1351,793h6v1h-6zM667,794h8v1h-8zM850,794h3v1h-3zM1069,794h5v1h-5zM1152,794h24v1h-24zM1249,794h4v1h-4zM1287,794h5v1h-5zM1354,794h5v1h-5zM1390,794h8v1h-8zM671,795h8v1h-8zM734,795h25v1h-25zM848,795h3v1h-3zM1072,795h4v1h-4zM1149,795h7v1h-7zM1251,795h38v1h-38zM1357,795h5v1h-5zM1377,795h21v1h-21zM675,796h8v1h-8zM707,796h55v1h-55zM846,796h4v1h-4zM1074,796h5v1h-5zM1115,796h18v1h-18zM1145,796h7v1h-7zM1253,796h34v1h-34zM1359,796h31v1h-31zM679,797h7v1h-7zM703,797h31v1h-31zM759,797h6v1h-6zM845,797h3v1h-3zM1076,797h7v1h-7zM1107,797h42v1h-42zM1362,797h15v1h-15zM683,798h7v1h-7zM698,798h9v1h-9zM762,798h7v1h-7zM843,798h3v1h-3zM1079,798h7v1h-7zM1103,798h12v1h-12zM1133,798h12v1h-12zM686,799h17v1h-17zM765,799h7v1h-7zM842,799h3v1h-3zM1083,799h7v1h-7zM1098,799h9v1h-9zM690,800h8v1h-8zM769,800h40v1h-40zM840,800h3v1h-3zM1086,800h17v1h-17zM772,801h45v1h-45zM838,801h4v1h-4zM1090,801h8v1h-8zM809,802h31v1h-31zM817,803h21v1h-21z" fill="#1e90ff"/><rect x="1645" y="823" width="1" height="1" fill="#000"/><rect x="1645" y="726" width="1" height="1" fill="#000"/><rect x="5" y="825" width="1" height="3" fill="#000"/><rect x="69" y="825" width="1" height="3" fill="#000"/><rect x="133" y="825" width="1" height="3" fill="#000"/><rect x="197" y="825" width="1" height="3" fill="#000"/><rect x="261" y="825" width="1" height="3" fill="#000"/><rect x="325" y="825" width="1" height="3" fill="#000"/><rect x="389" y="825" width="1" height="3" fill="#000"/><rect x="453" y="825" width="1" height="3" fill="#000"/><rect x="517" y="825" width="1" height="3" fill="#000"/><rect x="581" y="825" width="1" height="3" fill="#000"/><rect x="645" y="825" width="1" height="3" fill="#000"/><rect x="709" y="825" width="1" height="3" fill="#000"/><rect x="773" y="825" width="1" height="3" fill="#000"/><rect x="837" y="825" width="1" height="3" fill="#000"/><rect x="901" y="825" width="1" height="3" fill="#000"/><rect x="965" y="825" width="1" height="3" fill="#000"/><rect x="1029" y="825" width="1" height="3" fill="#000"/><rect x="1093" y="825" width="1" height="3" fill="#000"/><rect x="1157" y="825" width="1" height="3" fill="#000"/><rect x="1221" y="825" width="1" height="3" fill="#000"/><rect x="1285" y="825" width="1" height="3" fill="#000"/><rect x="1349" y="825" width="1" height="3" fill="#000"/></g><text x="9.6" y="737" font-size="10" fill="#000" stroke="#000" stroke-width="0.15" textLength="31.4" lengthAdjust="spacingAndGlyphs">RSI(14)</text><text x="44.3" y="737" font-size="10" fill="#000" stroke="#000" stroke-width="0.15" textLength="32.4" lengthAdjust="spacingAndGlyphs">28.8694</text><text x="1648.4" y="735" font-size="10" fill="#000" stroke="#000" stroke-width="0.15" textLength="14.5" lengthAdjust="spacingAndGlyphs">100</text><text x="1647.0" y="749" font-size="10" fill="#000" stroke="#000" stroke-width="0.15" textLength="10.1" lengthAdjust="spacingAndGlyphs">80</text><text x="1647.0" y="778" font-size="10" fill="#000" stroke="#000" stroke-width="0.15" textLength="10.1" lengthAdjust="spacingAndGlyphs">50</text><text x="1647.6" y="813" font-size="10" fill="#000" stroke="#000" stroke-width="0.15" textLength="9.4" lengthAdjust="spacingAndGlyphs">15</text><text x="1648.0" y="821" font-size="10" fill="#000" stroke="#000" stroke-width="0.15" textLength="5.0" lengthAdjust="spacingAndGlyphs">0</text><text x="4.9" y="837" font-size="10" fill="#000" stroke="#000" stroke-width="0.15" textLength="51.6" lengthAdjust="spacingAndGlyphs">11&#160;Aug&#160;2022</text><text x="68.7" y="837" font-size="10" fill="#000" stroke="#000" stroke-width="0.15" textLength="54.7" lengthAdjust="spacingAndGlyphs">12&#160;Aug&#160;04:00</text><text x="132.7" y="837" font-size="10" fill="#000" stroke="#000" stroke-width="0.15" textLength="54.7" lengthAdjust="spacingAndGlyphs">14&#160;Aug&#160;23:00</text><text x="196.7" y="837" font-size="10" fill="#000" stroke="#000" stroke-width="0.15" textLength="54.7" lengthAdjust="spacingAndGlyphs">15&#160;Aug&#160;12:00</text><text x="260.7" y="837" font-size="10" fill="#000" stroke="#000" stroke-width="0.15" textLength="54.7" lengthAdjust="spacingAndGlyphs">16&#160;Aug&#160;04:00</text><text x="324.7" y="837" font-size="10" fill="#000" stroke="#000" stroke-width="0.15" textLength="54.7" lengthAdjust="spacingAndGlyphs">16&#160;Aug&#160;20:00</text><text x="388.7" y="837" font-size="10" fill="#000" stroke="#000" stroke-width="0.15" textLength="54.7" lengthAdjust="spacingAndGlyphs">17&#160;Aug&#160;12:00</text><text x="452.7" y="837" font-size="10" fill="#000" stroke="#000" stroke-width="0.15" textLength="54.7" lengthAdjust="spacingAndGlyphs">18&#160;Aug&#160;04:00</text><text x="516.7" y="837" font-size="10" fill="#000" stroke="#000" stroke-width="0.15" textLength="54.7" lengthAdjust="spacingAndGlyphs">18&#160;Aug&#160;20:00</text><text x="580.7" y="837" font-size="10" fill="#000" stroke="#000" stroke-width="0.15" textLength="54.7" lengthAdjust="spacingAndGlyphs">19&#160;Aug&#160;12:00</text><text x="644.7" y="837" font-size="10" fill="#000" stroke="#000" stroke-width="0.15" textLength="54.7" lengthAdjust="spacingAndGlyphs">22&#160;Aug&#160;04:00</text><text x="708.7" y="837" font-size="10" fill="#000" stroke="#000" stroke-width="0.15" textLength="54.7" lengthAdjust="spacingAndGlyphs">22&#160;Aug&#160;20:00</text><text x="772.7" y="837" font-size="10" fill="#000" stroke="#000" stroke-width="0.15" textLength="54.7" lengthAdjust="spacingAndGlyphs">23&#160;Aug&#160;12:00</text><text x="836.7" y="837" font-size="10" fill="#000" stroke="#000" stroke-width="0.15" textLength="54.7" lengthAdjust="spacingAndGlyphs">24&#160;Aug&#160;04:00</text><text x="900.7" y="837" font-size="10" fill="#000" stroke="#000" stroke-width="0.15" textLength="54.7" lengthAdjust="spacingAndGlyphs">24&#160;Aug&#160;20:00</text><text x="964.7" y="837" font-size="10" fill="#000" stroke="#000" stroke-width="0.15" textLength="54.7" lengthAdjust="spacingAndGlyphs">25&#160;Aug&#160;12:00</text><text x="1028.7" y="837" font-size="10" fill="#000" stroke="#000" stroke-width="0.15" textLength="54.7" lengthAdjust="spacingAndGlyphs">26&#160;Aug&#160;04:00</text><text x="1092.7" y="837" font-size="10" fill="#000" stroke="#000" stroke-width="0.15" textLength="54.7" lengthAdjust="spacingAndGlyphs">28&#160;Aug&#160;23:00</text><text x="1156.7" y="837" font-size="10" fill="#000" stroke="#000" stroke-width="0.15" textLength="54.7" lengthAdjust="spacingAndGlyphs">29&#160;Aug&#160;12:00</text><text x="1220.7" y="837" font-size="10" fill="#000" stroke="#000" stroke-width="0.15" textLength="54.7" lengthAdjust="spacingAndGlyphs">30&#160;Aug&#160;04:00</text><text x="1284.7" y="837" font-size="10" fill="#000" stroke="#000" stroke-width="0.15" textLength="54.7" lengthAdjust="spacingAndGlyphs">30&#160;Aug&#160;20:00</text><text x="1348.7" y="837" font-size="10" fill="#000" stroke="#000" stroke-width="0.15" textLength="54.7" lengthAdjust="spacingAndGlyphs">31&#160;Aug&#160;12:00</text><rect x="1409" y="29" width="9" height="1" fill="#000" shape-rendering="crispEdges"/><rect x="1410" y="30" width="7" height="1" fill="#000" shape-rendering="crispEdges"/><rect x="1411" y="31" width="5" height="1" fill="#000" shape-rendering="crispEdges"/><rect x="1412" y="32" width="3" height="1" fill="#000" shape-rendering="crispEdges"/><rect x="1413" y="33" width="1" height="1" fill="#000" shape-rendering="crispEdges"/>
<defs>
<pattern id="chk" width="2" height="2" patternUnits="userSpaceOnUse"><rect width="2" height="2" fill="#f0f0f0"/><rect width="1" height="1" fill="#fff"/><rect x="1" y="1" width="1" height="1" fill="#fff"/></pattern>
<linearGradient id="gplus" x1="0" y1="0" x2="1" y2="1"><stop offset="0" stop-color="#9cff9c"/><stop offset="0.4" stop-color="#2cdc2c"/><stop offset="1" stop-color="#009a00"/></linearGradient>
<linearGradient id="gold" x1="0" y1="0" x2="1" y2="1"><stop offset="0" stop-color="#f0c020"/><stop offset="0.5" stop-color="#f2c830"/><stop offset="1" stop-color="#c08410"/></linearGradient>
<linearGradient id="cloud" x1="0" y1="0" x2="0" y2="1"><stop offset="0" stop-color="#ffffff"/><stop offset="1" stop-color="#b8c8e0"/></linearGradient>
<linearGradient id="bluebk" x1="0" y1="0" x2="1" y2="0"><stop offset="0" stop-color="#0a8cf0"/><stop offset="1" stop-color="#38b4ff"/></linearGradient>
<linearGradient id="yel" x1="0" y1="0" x2="1" y2="1"><stop offset="0" stop-color="#ffe878"/><stop offset="1" stop-color="#e0a818"/></linearGradient>
<radialGradient id="badge" cx="0.5" cy="0.2" r="0.9"><stop offset="0" stop-color="#ea5a3a"/><stop offset="1" stop-color="#d41a08"/></radialGradient>
<radialGradient id="redb" cx="0.4" cy="0.35" r="0.7"><stop offset="0" stop-color="#ff4020"/><stop offset="1" stop-color="#c01000"/></radialGradient>
<radialGradient id="lens" cx="0.4" cy="0.35" r="0.7"><stop offset="0" stop-color="#f4fbff"/><stop offset="1" stop-color="#b8dcf4"/></radialGradient>
<radialGradient id="clock" cx="0.5" cy="0.5" r="0.5"><stop offset="0" stop-color="#ffffff"/><stop offset="0.62" stop-color="#f0f4fa"/><stop offset="0.7" stop-color="#1c74d8"/><stop offset="1" stop-color="#0a4cb0"/></radialGradient>
<linearGradient id="radg" x1="0" y1="0" x2="1" y2="1"><stop offset="0" stop-color="#d8ecd8"/><stop offset="1" stop-color="#28a428"/></linearGradient>
<linearGradient id="radring" gradientUnits="userSpaceOnUse" x1="138" y1="0" x2="154" y2="0"><stop offset="0" stop-color="#3a66e0"/><stop offset="0.5" stop-color="#4a78d8"/><stop offset="1" stop-color="#48a860"/></linearGradient>
<linearGradient id="candg" x1="0" y1="0" x2="0" y2="1"><stop offset="0" stop-color="#90f890"/><stop offset="1" stop-color="#18d838"/></linearGradient>
</defs>
<g shape-rendering="crispEdges">
<rect x="5" y="1" width="1" height="21" fill="#a0a0a0"/>
<rect x="336" y="1" width="1" height="21" fill="#a0a0a0"/>
<rect x="426" y="1" width="1" height="21" fill="#a0a0a0"/>
<rect x="488" y="1" width="1" height="21" fill="#a0a0a0"/>
<rect x="676" y="1" width="1" height="21" fill="#a0a0a0"/>
<rect x="241" y="0" width="1" height="24" fill="#a0a0a0"/>
<rect x="242" y="0" width="1" height="24" fill="#ffffff"/>
<rect x="609" y="0" width="1" height="24" fill="#a0a0a0"/>
<rect x="610" y="0" width="1" height="24" fill="#ffffff"/>
<rect x="915" y="0" width="1" height="24" fill="#a0a0a0"/>
<rect x="916" y="0" width="1" height="24" fill="#ffffff"/>
<rect x="1176" y="0" width="1" height="24" fill="#a0a0a0"/>
<rect x="1177" y="0" width="1" height="24" fill="#ffffff"/>
<rect x="245" y="2" width="3" height="1" fill="#a0a0a0"/>
<rect x="245" y="4" width="3" height="1" fill="#a0a0a0"/>
<rect x="245" y="6" width="3" height="1" fill="#a0a0a0"/>
<rect x="245" y="8" width="3" height="1" fill="#a0a0a0"/>
<rect x="245" y="10" width="3" height="1" fill="#a0a0a0"/>
<rect x="245" y="12" width="3" height="1" fill="#a0a0a0"/>
<rect x="245" y="14" width="3" height="1" fill="#a0a0a0"/>
<rect x="245" y="16" width="3" height="1" fill="#a0a0a0"/>
<rect x="245" y="18" width="3" height="1" fill="#a0a0a0"/>
<rect x="245" y="20" width="3" height="1" fill="#a0a0a0"/>
<rect x="613" y="2" width="3" height="1" fill="#a0a0a0"/>
<rect x="613" y="4" width="3" height="1" fill="#a0a0a0"/>
<rect x="613" y="6" width="3" height="1" fill="#a0a0a0"/>
<rect x="613" y="8" width="3" height="1" fill="#a0a0a0"/>
<rect x="613" y="10" width="3" height="1" fill="#a0a0a0"/>
<rect x="613" y="12" width="3" height="1" fill="#a0a0a0"/>
<rect x="613" y="14" width="3" height="1" fill="#a0a0a0"/>
<rect x="613" y="16" width="3" height="1" fill="#a0a0a0"/>
<rect x="613" y="18" width="3" height="1" fill="#a0a0a0"/>
<rect x="613" y="20" width="3" height="1" fill="#a0a0a0"/>
<rect x="919" y="2" width="3" height="1" fill="#a0a0a0"/>
<rect x="919" y="4" width="3" height="1" fill="#a0a0a0"/>
<rect x="919" y="6" width="3" height="1" fill="#a0a0a0"/>
<rect x="919" y="8" width="3" height="1" fill="#a0a0a0"/>
<rect x="919" y="10" width="3" height="1" fill="#a0a0a0"/>
<rect x="919" y="12" width="3" height="1" fill="#a0a0a0"/>
<rect x="919" y="14" width="3" height="1" fill="#a0a0a0"/>
<rect x="919" y="16" width="3" height="1" fill="#a0a0a0"/>
<rect x="919" y="18" width="3" height="1" fill="#a0a0a0"/>
<rect x="919" y="20" width="3" height="1" fill="#a0a0a0"/>
<rect x="280" y="1" width="24" height="21" fill="url(#chk)"/>
<rect x="279" y="0" width="25" height="1" fill="#a0a0a0"/>
<rect x="279" y="0" width="1" height="22" fill="#a0a0a0"/>
<rect x="304" y="0" width="1" height="23" fill="#ffffff"/>
<rect x="279" y="22" width="26" height="1" fill="#ffffff"/>
<rect x="432" y="1" width="24" height="21" fill="url(#chk)"/>
<rect x="431" y="0" width="25" height="1" fill="#a0a0a0"/>
<rect x="431" y="0" width="1" height="22" fill="#a0a0a0"/>
<rect x="456" y="0" width="1" height="23" fill="#ffffff"/>
<rect x="431" y="22" width="26" height="1" fill="#ffffff"/>
<rect x="460" y="1" width="24" height="21" fill="url(#chk)"/>
<rect x="459" y="0" width="25" height="1" fill="#a0a0a0"/>
<rect x="459" y="0" width="1" height="22" fill="#a0a0a0"/>
<rect x="484" y="0" width="1" height="23" fill="#ffffff"/>
<rect x="459" y="22" width="26" height="1" fill="#ffffff"/>
<rect x="620" y="1" width="24" height="21" fill="url(#chk)"/>
<rect x="619" y="0" width="25" height="1" fill="#a0a0a0"/>
<rect x="619" y="0" width="1" height="22" fill="#a0a0a0"/>
<rect x="644" y="0" width="1" height="23" fill="#ffffff"/>
<rect x="619" y="22" width="26" height="1" fill="#ffffff"/>
<rect x="1066" y="1" width="24" height="21" fill="url(#chk)"/>
<rect x="1065" y="0" width="25" height="1" fill="#a0a0a0"/>
<rect x="1065" y="0" width="1" height="22" fill="#a0a0a0"/>
<rect x="1090" y="0" width="1" height="23" fill="#ffffff"/>
<rect x="1065" y="22" width="26" height="1" fill="#ffffff"/>
<rect x="259" y="6" width="1" height="14" fill="#505050"/>
<rect x="258" y="7" width="3" height="1" fill="#505050"/>
<rect x="257" y="17" width="14" height="1" fill="#505050"/>
<rect x="269" y="16" width="1" height="3" fill="#505050"/>
<rect x="287" y="6" width="1" height="14" fill="#505050"/>
<rect x="286" y="7" width="3" height="1" fill="#505050"/>
<rect x="285" y="17" width="14" height="1" fill="#505050"/>
<rect x="297" y="16" width="1" height="3" fill="#505050"/>
<rect x="315" y="6" width="1" height="14" fill="#505050"/>
<rect x="314" y="7" width="3" height="1" fill="#505050"/>
<rect x="313" y="17" width="14" height="1" fill="#505050"/>
<rect x="325" y="16" width="1" height="3" fill="#505050"/>
<rect x="439" y="6" width="1" height="14" fill="#505050"/>
<rect x="438" y="7" width="3" height="1" fill="#505050"/>
<rect x="437" y="17" width="14" height="1" fill="#505050"/>
<rect x="449" y="16" width="1" height="3" fill="#505050"/>
<rect x="467" y="6" width="1" height="14" fill="#505050"/>
<rect x="466" y="7" width="3" height="1" fill="#505050"/>
<rect x="465" y="17" width="14" height="1" fill="#505050"/>
<rect x="477" y="16" width="1" height="3" fill="#505050"/>
<rect x="265" y="7" width="1" height="9" fill="#008000"/>
<rect x="263" y="14" width="2" height="1" fill="#008000"/>
<rect x="266" y="8" width="2" height="1" fill="#008000"/>
<rect x="293" y="4" width="1" height="12" fill="#009000"/>
<rect x="291" y="6" width="5" height="8" fill="#009000"/>
<rect x="292" y="7" width="3" height="6" fill="url(#candg)"/>
<rect x="659" y="5" width="1" height="6" fill="#505050"/>
<rect x="659" y="14" width="1" height="6" fill="#505050"/>
<rect x="652" y="12" width="6" height="1" fill="#505050"/>
<rect x="661" y="12" width="6" height="1" fill="#505050"/>
<rect x="659" y="12" width="1" height="1" fill="#909090"/>
<rect x="693" y="6" width="1" height="13" fill="#505050"/>
<rect x="716" y="12" width="12" height="1" fill="#505050"/>
<rect x="799" y="5" width="1" height="1" fill="#505050"/>
<rect x="801" y="5" width="1" height="1" fill="#505050"/>
<rect x="803" y="5" width="1" height="1" fill="#505050"/>
<rect x="805" y="5" width="1" height="1" fill="#505050"/>
<rect x="807" y="5" width="1" height="1" fill="#505050"/>
<rect x="809" y="5" width="1" height="1" fill="#505050"/>
<rect x="811" y="5" width="1" height="1" fill="#505050"/>
<rect x="799" y="8" width="1" height="1" fill="#505050"/>
<rect x="801" y="8" width="1" height="1" fill="#505050"/>
<rect x="803" y="8" width="1" height="1" fill="#505050"/>
<rect x="805" y="8" width="1" height="1" fill="#505050"/>
<rect x="807" y="8" width="1" height="1" fill="#505050"/>
<rect x="809" y="8" width="1" height="1" fill="#505050"/>
<rect x="811" y="8" width="1" height="1" fill="#505050"/>
<rect x="799" y="12" width="1" height="1" fill="#505050"/>
<rect x="801" y="12" width="1" height="1" fill="#505050"/>
<rect x="803" y="12" width="1" height="1" fill="#505050"/>
<rect x="805" y="12" width="1" height="1" fill="#505050"/>
<rect x="807" y="12" width="1" height="1" fill="#505050"/>
<rect x="809" y="12" width="1" height="1" fill="#505050"/>
<rect x="811" y="12" width="1" height="1" fill="#505050"/>
<rect x="799" y="16" width="1" height="1" fill="#505050"/>
<rect x="801" y="16" width="1" height="1" fill="#505050"/>
<rect x="803" y="16" width="1" height="1" fill="#505050"/>
<rect x="805" y="16" width="1" height="1" fill="#505050"/>
<rect x="807" y="16" width="1" height="1" fill="#505050"/>
<rect x="856" y="6" width="1" height="1" fill="#505050"/>
<rect x="856" y="18" width="1" height="1" fill="#505050"/>
<rect x="858" y="6" width="1" height="1" fill="#505050"/>
<rect x="858" y="18" width="1" height="1" fill="#505050"/>
<rect x="860" y="6" width="1" height="1" fill="#505050"/>
<rect x="860" y="18" width="1" height="1" fill="#505050"/>
<rect x="862" y="6" width="1" height="1" fill="#505050"/>
<rect x="862" y="18" width="1" height="1" fill="#505050"/>
<rect x="864" y="6" width="1" height="1" fill="#505050"/>
<rect x="864" y="18" width="1" height="1" fill="#505050"/>
<rect x="866" y="6" width="1" height="1" fill="#505050"/>
<rect x="866" y="18" width="1" height="1" fill="#505050"/>
<rect x="868" y="6" width="1" height="1" fill="#505050"/>
<rect x="868" y="18" width="1" height="1" fill="#505050"/>
<rect x="856" y="6" width="1" height="1" fill="#505050"/>
<rect x="868" y="6" width="1" height="1" fill="#505050"/>
<rect x="856" y="8" width="1" height="1" fill="#505050"/>
<rect x="868" y="8" width="1" height="1" fill="#505050"/>
<rect x="856" y="10" width="1" height="1" fill="#505050"/>
<rect x="868" y="10" width="1" height="1" fill="#505050"/>
<rect x="856" y="12" width="1" height="1" fill="#505050"/>
<rect x="868" y="12" width="1" height="1" fill="#505050"/>
<rect x="856" y="14" width="1" height="1" fill="#505050"/>
<rect x="868" y="14" width="1" height="1" fill="#505050"/>
<rect x="856" y="16" width="1" height="1" fill="#505050"/>
<rect x="868" y="16" width="1" height="1" fill="#505050"/>
<rect x="856" y="18" width="1" height="1" fill="#505050"/>
<rect x="868" y="18" width="1" height="1" fill="#505050"/>
<rect x="473" y="6" width="1" height="10" fill="#0070a8"/>
</g>
<polygon points="520,11 525,11 522.5,14" fill="#000" shape-rendering="crispEdges"/>
<polygon points="559,11 564,11 561.5,14" fill="#000" shape-rendering="crispEdges"/>
<polygon points="598,11 603,11 600.5,14" fill="#000" shape-rendering="crispEdges"/>
<polygon points="904,11 909,11 906.5,14" fill="#000" shape-rendering="crispEdges"/>
<path d="M314,14.8 C316,13.5 318,9 320.5,9.2 C322.5,9.4 323.5,12 326,13" fill="none" stroke="#108010" stroke-width="1.1"/>
<polygon points="444.3,8 444.3,15 448.3,11.5" fill="#38d858" stroke="#008000" stroke-width="0.9"/>
<path d="M479.5,11.5 L474.6,11.5 M477.2,9 L474.8,11.5 L477.2,14" fill="none" stroke="#e04808" stroke-width="1.3"/>
<polygon points="627,5 627,16 629.6,13.6 632,18.6 634,17.6 631.6,12.8 635,12.5" fill="#505050"/>
<line x1="743.8" y1="18.8" x2="756" y2="7" stroke="#505050" stroke-width="1.1"/>
<g stroke="#484848" stroke-width="1.1" fill="none"><line x1="769.8" y1="13.6" x2="778.5" y2="6"/><line x1="771" y1="18.2" x2="784" y2="9.5"/><line x1="774.5" y1="19" x2="783.5" y2="12.5"/><path d="M771,16.5 L772.5,10.5 L775,16 L776.5,9 L779,14 L781.5,4.8 L782.5,11"/></g>
<text x="780.8" y="20.8" font-size="6.5" font-weight="bold" fill="#404040">E</text>
<text x="808.8" y="20.8" font-size="6.5" font-weight="bold" fill="#404040">F</text>
<text x="829.4" y="17" font-size="12.5" font-weight="bold" fill="#555" textLength="8.4" lengthAdjust="spacingAndGlyphs">A</text>
<text x="857.5" y="16.6" font-size="11" font-weight="bold" fill="#555" textLength="9" lengthAdjust="spacingAndGlyphs">T</text>
<rect x="855" y="5" width="2" height="1.4" fill="#505050"/>
<g fill="#505050"><polygon points="887,5.8 891.2,9.6 882.8,9.6"/><polygon points="893.5,18.8 897.5,15 889.5,15"/><path d="M885.5,13 L887.5,15 L891.5,10.2" fill="none" stroke="#505050" stroke-width="1.4"/></g>
<text x="929.8" y="16" font-size="10" fill="#404040" textLength="13.8" lengthAdjust="spacingAndGlyphs">M1</text>
<text x="957.8" y="16" font-size="10" fill="#404040" textLength="13.9" lengthAdjust="spacingAndGlyphs">M5</text>
<text x="983.9" y="16" font-size="10" fill="#404040" textLength="18.5" lengthAdjust="spacingAndGlyphs">M15</text>
<text x="1011.9" y="16" font-size="10" fill="#404040" textLength="18.6" lengthAdjust="spacingAndGlyphs">M30</text>
<text x="1043.1000000000001" y="16" font-size="10" fill="#404040" textLength="12.3" lengthAdjust="spacingAndGlyphs">H1</text>
<text x="1070.0" y="16" font-size="10" fill="#404040" textLength="13.1" lengthAdjust="spacingAndGlyphs">H4</text>
<text x="1099.2" y="16" font-size="10" fill="#404040" textLength="12.3" lengthAdjust="spacingAndGlyphs">D1</text>
<text x="1126.8000000000002" y="16" font-size="10" fill="#404040" textLength="14.7" lengthAdjust="spacingAndGlyphs">W1</text>
<text x="1153.0" y="16" font-size="10" fill="#404040" textLength="15.4" lengthAdjust="spacingAndGlyphs">MN</text>
<path d="M16.5,4.5 L22.5,4.5 L26.5,8.5 L26.5,16.5 Q26.5,17.5 25.5,17.5 L16.5,17.5 Q15.5,17.5 15.5,16.5 L15.5,5.5 Q15.5,4.5 16.5,4.5 Z" fill="#fff" stroke="#7a7a7a" stroke-width="1"/>
<path d="M22.5,4.5 L22.5,8.5 L26.5,8.5" fill="#e8e8e8" stroke="#7a7a7a" stroke-width="0.8"/>
<rect x="17.2" y="6.2" width="2.8" height="1.5" fill="#a0a0a0"/>
<rect x="17.2" y="9.799999999999999" width="5" height="0.9" fill="#a0a0a0"/>
<rect x="17.2" y="11.9" width="5" height="0.9" fill="#a0a0a0"/>
<rect x="17.2" y="14.0" width="5" height="0.9" fill="#a0a0a0"/>
<path d="M23.4,10.6 h3.2 v3.8 h3.8 v3.2 h-3.8 v3.8 h-3.2 v-3.8 h-3.8 v-3.2 h3.8 Z" fill="url(#gplus)" stroke="#008200" stroke-width="1"/>
<path d="M499.5,4.5 L505.5,4.5 L509.5,8.5 L509.5,16.5 Q509.5,17.5 508.5,17.5 L499.5,17.5 Q498.5,17.5 498.5,16.5 L498.5,5.5 Q498.5,4.5 499.5,4.5 Z" fill="#fff" stroke="#7a7a7a" stroke-width="1"/>
<path d="M505.5,4.5 L505.5,8.5 L509.5,8.5" fill="#e8e8e8" stroke="#7a7a7a" stroke-width="0.8"/>
<path d="M503.5,7 Q501.5,6.5 501.5,9 L501.5,14.5 Q501.5,16 500,15.5 M500,10.5 L503.5,10.5" fill="none" stroke="#707050" stroke-width="0.9"/>
<path d="M506.7,10.9 h3.2 v3.8 h3.8 v3.2 h-3.8 v3.8 h-3.2 v-3.8 h-3.8 v-3.2 h3.8 Z" fill="url(#gplus)" stroke="#008200" stroke-width="1"/>
<polygon points="82.1,13.6 90,19.7 97.8,14 97.2,11.9 90,17.4 82.3,12.4" fill="#b07a18" stroke="#946010" stroke-width="0.8"/>
<path d="M83,14.3 L90,18.7 L97.2,13.3" fill="none" stroke="#f0dfa0" stroke-width="0.7"/>
<path d="M87.3,5.1 L96.6,11.3 L90.2,17.3 L82.2,12.9 L85.6,10 Q87.2,8 87.3,5.1 Z" fill="url(#gold)" stroke="#b07c10" stroke-width="0.9"/>
<path d="M112.2,5 L119,4.3 L122.6,5.8 L122.6,13 L112.2,13 Z" fill="url(#bluebk)" stroke="#1a86e4" stroke-width="0.6"/>
<path d="M112.8,5.2 L115.6,7.2 L115.6,13" fill="none" stroke="#d8f0ff" stroke-width="0.9"/>
<rect x="117.2" y="8.4" width="4" height="1.2" fill="#e0f4ff"/>
<path d="M112.8,19.5 C109.4,19.5 109.4,15.3 112.4,15 C112.6,13.5 114.4,13 115.4,13.8 C116.4,11.7 120.2,11.5 121,14 C123,13.4 124.7,14.6 124.3,16 C126.7,16.2 126.7,19.5 123.6,19.5 Z" fill="url(#cloud)" stroke="#4c6cac" stroke-width="0.9"/>
<circle cx="146" cy="11.8" r="7.6" fill="#ffffff" opacity="0.55"/>
<path d="M146,11.7 L146.6,19.5 A7.8,7.8 0 0 0 151.2,5.9 Z" fill="url(#radg)" opacity="0.8"/>
<g fill="none" stroke="url(#radring)" stroke-width="1.1"><circle cx="146" cy="11.8" r="7.5" opacity="0.6"/><circle cx="146" cy="11.8" r="5" opacity="0.6"/><circle cx="146" cy="11.8" r="2.6" opacity="0.55"/></g>
<path d="M153.5,10 A7.6,7.6 0 0 0 151.2,6.1" fill="none" stroke="#284880" stroke-width="1.1" opacity="0.7"/>
<circle cx="146" cy="11.4" r="1.9" fill="#2858d0"/>
<rect x="146" y="11.8" width="1.2" height="8" fill="#20a020"/>
<polygon points="165.4,11.6 180.8,11 177,16 173.6,19.8 170.5,17.5" fill="url(#yel)" stroke="#c89818" stroke-width="0.8"/>
<path d="M165.3,9.2 C165.3,7.2 168.5,7.6 169.4,7.4 C169.6,3.4 176,3.2 176.3,7.2 C177.5,7.4 180.9,6.6 180.9,8.6 C180.9,10.8 176,12 173,12 C169.5,12 165.3,11.4 165.3,9.2 Z" fill="#6cb8e2" stroke="#2484a8" stroke-width="0.9"/>
<path d="M169.6,7.6 C171,9 175,8.8 176.2,7.4" fill="none" stroke="#2484a8" stroke-width="0.7"/>
<circle cx="177.4" cy="15.6" r="4.1" fill="url(#redb)"/>
<rect x="176" y="14.1" width="3" height="3" fill="#fff"/>
<line x1="354.6" y1="13.6" x2="360.2" y2="18.6" stroke="#b88c10" stroke-width="3" stroke-linecap="round"/>
<line x1="354.8" y1="13.6" x2="360" y2="18.2" stroke="#f0d860" stroke-width="1.4" stroke-linecap="round"/>
<circle cx="351" cy="9.6" r="5.3" fill="url(#lens)" stroke="#3a80cc" stroke-width="1.2"/>
<rect x="348" y="8.8" width="6" height="1.8" fill="#3a78c0"/>
<rect x="350.1" y="6.7" width="1.8" height="6" fill="#3a78c0"/>
<line x1="382.8" y1="13.6" x2="388.4" y2="18.6" stroke="#b88c10" stroke-width="3" stroke-linecap="round"/>
<line x1="383.0" y1="13.6" x2="388.2" y2="18.2" stroke="#f0d860" stroke-width="1.4" stroke-linecap="round"/>
<circle cx="379.2" cy="9.6" r="5.3" fill="url(#lens)" stroke="#3a80cc" stroke-width="1.2"/>
<rect x="376.2" y="8.8" width="6" height="1.8" fill="#3a78c0"/>
<rect x="401" y="4" width="8" height="8" fill="#46a022"/>
<rect x="401" y="4" width="8" height="2.4" fill="#2f8a10"/>
<rect x="402.2" y="7.4" width="5.8" height="3.6" fill="#fff"/>
<rect x="403.4" y="8.6" width="3.4" height="0.9" fill="#46a022" opacity="0.55"/>
<rect x="402" y="5" width="1" height="1" fill="#fff" opacity="0.8"/>
<rect x="409.2" y="4" width="8" height="8" fill="#2a5cd8"/>
<rect x="409.2" y="4" width="8" height="2.4" fill="#1440b8"/>
<rect x="410.4" y="7.4" width="5.8" height="3.6" fill="#fff"/>
<rect x="411.59999999999997" y="8.6" width="3.4" height="0.9" fill="#2a5cd8" opacity="0.55"/>
<rect x="410.2" y="5" width="1" height="1" fill="#fff" opacity="0.8"/>
<rect x="401" y="12.2" width="8" height="8" fill="#2a5cd8"/>
<rect x="401" y="12.2" width="8" height="2.4" fill="#1440b8"/>
<rect x="402.2" y="15.6" width="5.8" height="3.6" fill="#fff"/>
<rect x="403.4" y="16.799999999999997" width="3.4" height="0.9" fill="#2a5cd8" opacity="0.55"/>
<rect x="402" y="13.2" width="1" height="1" fill="#fff" opacity="0.8"/>
<rect x="409.2" y="12.2" width="8" height="8" fill="#46a022"/>
<rect x="409.2" y="12.2" width="8" height="2.4" fill="#2f8a10"/>
<rect x="410.4" y="15.6" width="5.8" height="3.6" fill="#fff"/>
<rect x="411.59999999999997" y="16.799999999999997" width="3.4" height="0.9" fill="#46a022" opacity="0.55"/>
<rect x="410.2" y="13.2" width="1" height="1" fill="#fff" opacity="0.8"/>
<circle cx="544.1" cy="11.9" r="7.8" fill="url(#clock)"/>
<circle cx="544.1" cy="11.9" r="5.2" fill="#f8fafc"/>
<path d="M543.6,8.2 L543.9,12 L546.6,12.4" fill="none" stroke="#303030" stroke-width="1.1"/>
<g fill="#8098b8"><rect x="543.7" y="7" width="0.8" height="1"/><rect x="543.7" y="15.8" width="0.8" height="1"/><rect x="539.3" y="11.5" width="1" height="0.8"/><rect x="548" y="11.5" width="1" height="0.8"/></g>
<rect x="575.4" y="5.4" width="15.4" height="13.2" fill="#fff" stroke="#2c68c8" stroke-width="1"/>
<rect x="575" y="5" width="16.2" height="2.2" fill="#3c78d8"/>
<rect x="575.4" y="12.2" width="15.4" height="0.9" fill="#6c98d8"/>
<path d="M577,11 L579,10.8 L580.5,9.8 L582,10 L583,9.2 L585,10 L586.5,9.4 L588.8,9.2" fill="none" stroke="#b02000" stroke-width="1.2"/>
<path d="M577.6,16.2 L579.6,15.6 L580.8,16.2 L583,15 L584.4,15.8 L586,14.2 L588.4,16.4" fill="none" stroke="#109030" stroke-width="1.1"/>
<line x1="1643.4" y1="12.5" x2="1638.8" y2="16.8" stroke="#2a5cd0" stroke-width="2.4" stroke-linecap="round"/>
<circle cx="1646.6" cy="9.5" r="4" fill="#f4f4fc" stroke="#2a5cd0" stroke-width="1.2"/>
<path d="M1663,14 C1663,11 1665.5,9.6 1668.5,9.6 C1672,9.6 1674,11.4 1674,14 C1674,16.6 1671.6,18.2 1668.4,18.2 L1667.6,18.2 L1666.4,20.4 L1666.2,18 C1664.2,17.4 1663,16 1663,14 Z" fill="#e4e4ec" stroke="#a8a8a8" stroke-width="0.8"/>
<circle cx="1677.4" cy="9.7" r="8.2" fill="url(#badge)"/>
<path d="M1674.1,7.7 L1676.7,5.5 L1678,5.5 L1678,13.1 L1679.5,13.1 L1679.5,14.2 L1673.8,14.2 L1673.8,13.1 L1676.5,13.1 L1676.5,7.3 L1674.6,8.8 Z" fill="#fff"/>
<path d="M34,6h6v1h-6zM34,9h7v1h-7zM35,11h5v1h-5zM35,15h2v1h-2zM41,6h3v1h-3zM41,9h6v1h-6z" fill="#000"/>
<path d="M37,5h1v1h-1zM35,7h1v1h-1zM36,8h1v1h-1zM39,7h1v1h-1zM38,8h1v1h-1zM37,10h1v6h-1zM36,12h1v1h-1zM35,13h1v1h-1zM34,14h1v1h-1zM38,12h1v1h-1zM39,13h1v1h-1zM40,14h1v1h-1zM44,5h1v1h-1zM40.5,7h1v7h-1zM40.2,14h1v2h-1zM43.35,10h1v6h-1z" fill="#000" opacity="0.72"/>
<path d="M46,9h3v1h-3zM50,6h8v1h-8zM51,15h3.6v1h-3.6z" fill="#000"/>
<path d="M47,5h1v1h-1zM48,6h1v1h-1zM48.5,7h1v1h-1zM47.6,10h1v6h-1zM49,14h1v1h-1zM50,13h1v1h-1zM50.6,12h1v1h-1zM54.2,7h1v9h-1zM51,14h1v1h-1z" fill="#000" opacity="0.72"/>
<path d="M59,7h10v1h-10zM59,9h10v1h-10zM59,11h10v1h-10zM58,13h12v1h-12z" fill="#000"/>
<path d="M61,5h1v1h-1zM62,6h1v1h-1zM67,5h1v1h-1zM66,6h1v1h-1zM59.2,7h1v5h-1zM68.2,7h1v5h-1zM63.5,7h1v10h-1z" fill="#000" opacity="0.72"/>
<path d="M187,6h10v1h-10zM187,8h10v1h-10zM187,11h10v1h-10zM187,14h10v1h-10z" fill="#000"/>
<path d="M190.4,5h1v1h-1zM187.3,6h1v10h-1zM195.7,6h1v10h-1z" fill="#000" opacity="0.72"/>
<path d="M199,6h5v1h-5zM198,9h6v1h-6zM199,14h3v1h-3zM201.4,13h2v1h-2zM204,7h6v1h-6zM206,15h3v1h-3z" fill="#000"/>
<path d="M200.3,10h1v1h-1zM200,11h1v1h-1zM199.6,12h1v1h-1zM199.2,13h1v1h-1zM202.6,11h1v1h-1zM203,12h1v1h-1zM203.4,13h1v2h-1zM205.6,5h1v6h-1zM205.2,11h1v2h-1zM204.6,13h1v1h-1zM204,14h1v1h-1zM203.3,15h1v1h-1zM208.7,7h1v9h-1z" fill="#000" opacity="0.72"/>
<path d="M210,7h12v1h-12zM213,14h2v1h-2zM210,15h3v1h-3zM217,14h2v1h-2zM219,15h3v1h-3z" fill="#000"/>
<path d="M215.3,5h1v2h-1zM213,9h1v1h-1zM212,10h1v1h-1zM211,11h1v1h-1zM218,9h1v1h-1zM219,10h1v1h-1zM220,11h1v1h-1zM217,9h1v3h-1zM216,12h1v1h-1zM215,13h1v1h-1zM214,11h1v1h-1zM215,12h1v1h-1zM216,13h1v1h-1z" fill="#000" opacity="0.72"/>
<path d="M223,5h10v1h-10zM224,7h9v1h-9zM224,9h9v1h-9zM224,11h9v1h-9zM229,15h3v1h-3zM223,14h2v1h-2zM227,14h2v1h-2z" fill="#000"/>
<path d="M223,5h1v5h-1zM232,5h1v5h-1zM225,10h1v1h-1zM223,12h1v1h-1zM222,12.6h1v1h-1zM232,11h1v5h-1zM226,12h1v1h-1zM225,13h1v1h-1zM229,12h1v1h-1zM228,13h1v1h-1zM226,15h1v1h-1z" fill="#000" opacity="0.72"/>
</svg>
</body></html>
